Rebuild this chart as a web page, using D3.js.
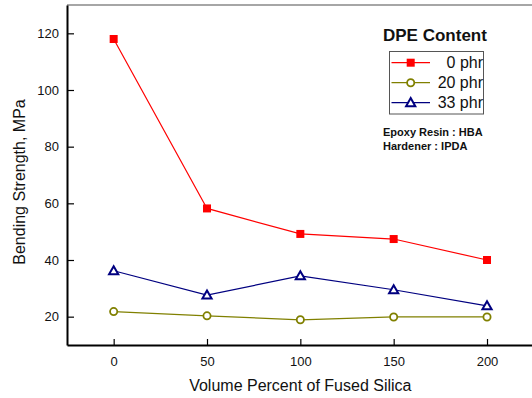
<!DOCTYPE html>
<html>
<head>
<meta charset="utf-8">
<script src="https://cdn.jsdelivr.net/npm/d3@7"></script>
<style>
  html, body { margin: 0; padding: 0; background: #fff; }
  svg { display: block; font-family: "Liberation Sans", Arial, sans-serif; }
</style>
</head>
<body>
<svg id="chart" width="532" height="398"></svg>
<script>
// Fused silica loading (vol. %) on the x axis
const silica = [0, 50, 100, 150, 200];
// Bending strength (MPa) for each DPE content
const dpe0 = [118, 58.2, 49.2, 47.4, 40.0];
const dpe20 = [21.8, 20.3, 18.9, 19.9, 19.9];
const dpe33 = [36.2, 27.6, 34.4, 29.5, 23.8];
const seriesNames = ["0 phr", "20 phr", "33 phr"];
const xTicks = [0, 50, 100, 150, 200];
const yTicks = [20, 40, 60, 80, 100, 120];

const svg = d3.select("#chart");
const plotLeft = 67, plotTop = 5, plotBottom = 345;

const x = d3.scaleLinear().domain([-25, 225]).range([plotLeft, plotLeft + 250 * 1.8667]);
const y = d3.scaleLinear().domain([10, 130]).range([plotBottom, plotTop]);

// frame: grey top edge, black left and bottom axes
svg.append("line").attr("x1", plotLeft).attr("x2", 532).attr("y1", plotTop).attr("y2", plotTop)
  .attr("stroke", "#888").attr("stroke-width", 1.5);

const xAxis = d3.axisBottom(x).tickValues(xTicks).tickSizeInner(-6).tickSizeOuter(0).tickPadding(12);
const gx = svg.append("g").attr("transform", `translate(0,${plotBottom})`).call(xAxis);
gx.select(".domain").attr("stroke", "#000").attr("stroke-width", 2);
gx.selectAll(".tick line").attr("stroke", "#000").attr("stroke-width", 1.2);
gx.selectAll(".tick text").attr("font-size", 13).attr("fill", "#111")
  .attr("font-family", "Liberation Sans, Arial, sans-serif");

const yAxis = d3.axisLeft(y).tickValues(yTicks).tickSizeInner(-7).tickSizeOuter(0).tickPadding(8);
const gy = svg.append("g").attr("transform", `translate(${plotLeft},0)`).call(yAxis);
gy.select(".domain").attr("stroke", "#000").attr("stroke-width", 2);
gy.selectAll(".tick line").attr("stroke", "#000").attr("stroke-width", 1.2);
gy.selectAll(".tick text").attr("font-size", 13).attr("fill", "#111")
  .attr("font-family", "Liberation Sans, Arial, sans-serif");

// axis titles
svg.append("text").attr("x", x(100)).attr("y", 391).attr("text-anchor", "middle")
  .attr("font-size", 16).attr("fill", "#111").text("Volume Percent of Fused Silica");
svg.append("text").attr("transform", "translate(25,182) rotate(-90)").attr("text-anchor", "middle")
  .attr("font-size", 16).attr("fill", "#111").text("Bending Strength, MPa");

const series = [
  { name: seriesNames[0], values: dpe0, color: "#ff0000", shape: "square" },
  { name: seriesNames[1], values: dpe20, color: "#808000", shape: "circle" },
  { name: seriesNames[2], values: dpe33, color: "#000080", shape: "triangle" }
];

function drawMarker(g, shape, color, cx, cy) {
  if (shape === "square") {
    g.append("rect").attr("x", cx - 4).attr("y", cy - 4).attr("width", 8).attr("height", 8)
      .attr("fill", color);
  } else if (shape === "circle") {
    g.append("circle").attr("cx", cx).attr("cy", cy).attr("r", 3.6)
      .attr("fill", "#fff").attr("stroke", color).attr("stroke-width", 1.8);
  } else {
    const s = 4.6;
    g.append("path")
      .attr("d", `M${cx},${cy - s} L${cx + s},${cy + s * 0.75} L${cx - s},${cy + s * 0.75} Z`)
      .attr("fill", "#fff").attr("stroke", color).attr("stroke-width", 2);
  }
}

const line = d3.line().x((d, i) => x(silica[i])).y(d => y(d));

// draw lines first so markers stay on top
series.forEach(s => {
  svg.append("path").datum(s.values).attr("d", line)
    .attr("fill", "none").attr("stroke", s.color).attr("stroke-width", 1.2);
});
series.forEach(s => {
  const g = svg.append("g");
  s.values.forEach((v, i) => drawMarker(g, s.shape, s.color, x(silica[i]), y(v)));
});

// legend
svg.append("text").attr("x", 383).attr("y", 41).attr("font-size", 17).attr("font-weight", "bold")
  .attr("fill", "#111").text("DPE Content");
svg.append("rect").attr("x", 389.5).attr("y", 51.5).attr("width", 94).attr("height", 62.5)
  .attr("fill", "none").attr("stroke", "#555").attr("stroke-width", 1);
series.forEach((s, i) => {
  const ly = 62.7 + i * 20;
  const g = svg.append("g");
  g.append("line").attr("x1", 391.5).attr("x2", 430).attr("y1", ly).attr("y2", ly)
    .attr("stroke", s.color).attr("stroke-width", 1.2);
  drawMarker(g, s.shape, s.color, 410.7, ly);
  g.append("text").attr("x", 483).attr("y", ly + 5.5).attr("text-anchor", "end")
    .attr("font-size", 16).attr("fill", "#111").text(s.name);
});

svg.append("text").attr("x", 383).attr("y", 136).attr("font-size", 11).attr("font-weight", "bold")
  .attr("fill", "#111").text("Epoxy Resin : HBA");
svg.append("text").attr("x", 383).attr("y", 149.5).attr("font-size", 11).attr("font-weight", "bold")
  .attr("fill", "#111").text("Hardener : IPDA");
</script>
</body>
</html>
